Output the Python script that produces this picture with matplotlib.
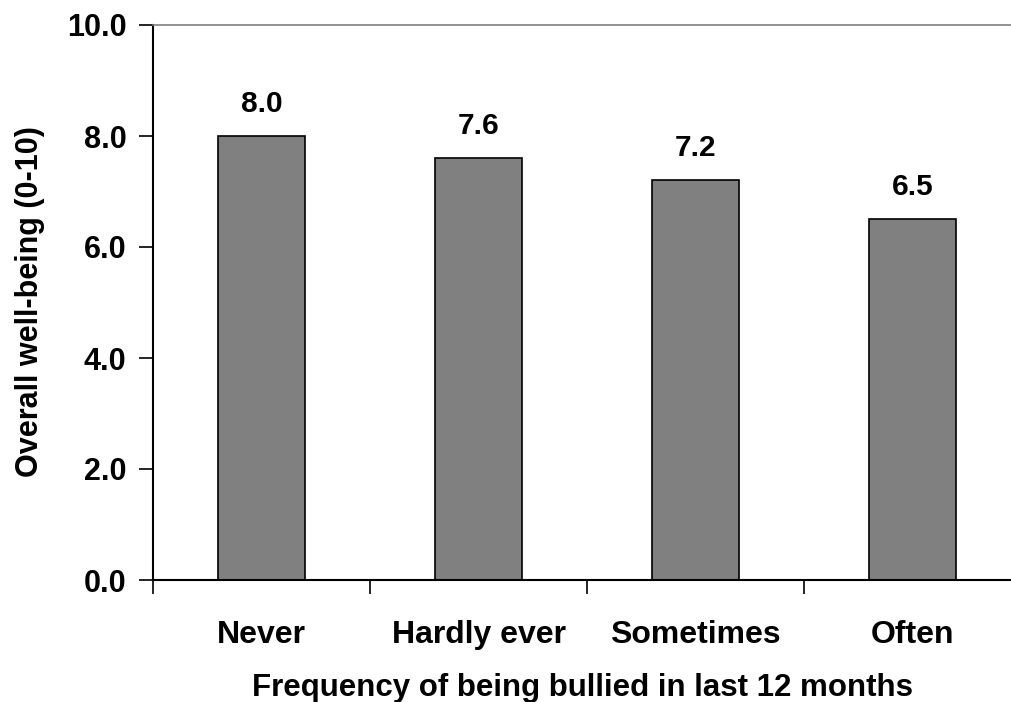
import numpy as np
import matplotlib.pyplot as plt

plt.rcParams['font.family'] = ['Liberation Sans', 'DejaVu Sans']
plt.rcParams['font.weight'] = 'bold'

categories = ['Never', 'Hardly ever', 'Sometimes', 'Often']
values = [8.0, 7.6, 7.2, 6.5]
yticks = [0.0, 2.0, 4.0, 6.0, 8.0, 10.0]

W, H = 1011, 702
fig = plt.figure(figsize=(W / 100, H / 100), dpi=100)
# plot area runs off the right edge of the figure, as in the original
ax = fig.add_axes([153 / W, 1 - 580 / H, 868 / W, 555 / H])

x = np.arange(len(categories))
ax.bar(x, values, width=0.4, color='#808080', edgecolor='black', linewidth=1.2)

for xi, v in zip(x, values):
    ax.text(xi, v + 0.33, '{:.1f}'.format(v), ha='center', va='bottom',
            fontsize=21.5, fontweight='bold')

ax.set_xlim(-0.5, len(categories) - 0.5)
ax.set_ylim(0, 10)
ax.set_yticks(yticks)
ax.set_yticklabels(['{:.1f}'.format(t) for t in yticks], fontsize=22, fontweight='bold')

# category boundaries get the tick marks, labels sit in the middle
ax.set_xticks(np.arange(-0.5, len(categories), 1.0))
ax.set_xticklabels([])
ax.set_xticks(x, minor=True)
ax.set_xticklabels(categories, minor=True, fontsize=23, fontweight='bold')
ax.tick_params(axis='x', which='major', length=10, width=1.2, direction='out')
ax.tick_params(axis='x', which='minor', length=0, pad=29)
ax.tick_params(axis='y', length=10, width=1.2, direction='out', pad=9)

ax.spines['right'].set_visible(False)
ax.spines['top'].set_color('#808080')
ax.spines['top'].set_linewidth(1.2)
ax.spines['left'].set_linewidth(1.5)
ax.spines['bottom'].set_linewidth(1.5)

fig.text(582 / W, 1 - 688 / H, 'Frequency of being bullied in last 12 months',
         ha='center', va='center', fontsize=22.5, fontweight='bold')
fig.text(30 / W, 1 - 302 / H, 'Overall well-being (0-10)', rotation=90,
         ha='center', va='center', fontsize=22, fontweight='bold')

fig.savefig('out.png', dpi=100)
